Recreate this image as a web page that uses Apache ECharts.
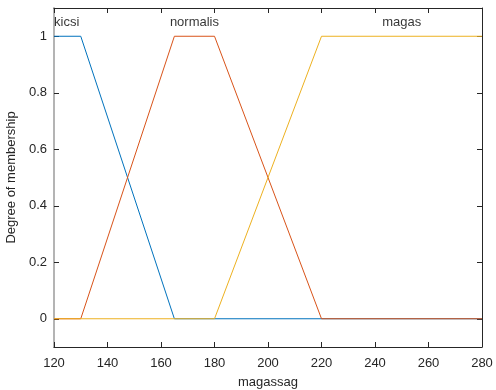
<!DOCTYPE html>
<html><head><meta charset="utf-8">
<script src="https://cdn.jsdelivr.net/npm/echarts@6/dist/echarts.min.js"></script>
<style>html,body{margin:0;padding:0;background:#fff}#c{width:496px;height:390px}</style>
</head><body><div id="c"></div>
<script>
const kicsiX = [120, 130, 165, 280];
const kicsiY = [1, 1, 0, 0];
const normalisX = [120, 130, 165, 180, 220, 280];
const normalisY = [0, 0, 1, 1, 0, 0];
const magasX = [120, 180, 220, 280];
const magasY = [0, 0, 1, 1];
const mfNames = ['kicsi', 'normalis', 'magas'];
const mfLabelX = [120, 172.5, 250];
const mfLabelY = 1.05;
const xTicks = [120, 140, 160, 180, 200, 220, 240, 260, 280];
const yTicks = [0, 0.2, 0.4, 0.6, 0.8, 1];

const zip = (xs, ys) => xs.map((x, i) => [x, ys[i]]);
const font = 'Liberation Sans, Arial, sans-serif';
const axisCol = '#262626';

const chart = echarts.init(document.getElementById('c'), null, {renderer: 'canvas'});
chart.setOption({
  animation: false,
  backgroundColor: '#fff',
  grid: {show: false, left: 54, right: 14, top: 8, bottom: 43, containLabel: false, outerBoundsMode: 'none'},
  xAxis: [{
    type: 'value', min: 120, max: 280, interval: 20,
    name: 'magassag', nameLocation: 'middle', nameGap: 29,
    nameTextStyle: {fontFamily: font, fontSize: 13, color: axisCol},
    axisLine: {onZero: false, lineStyle: {color: axisCol, width: 1}},
    axisTick: {show: true, inside: true, length: 5, lineStyle: {color: axisCol}},
    axisLabel: {fontFamily: font, fontSize: 13, color: axisCol, margin: 10},
    splitLine: {show: false}
  }, {
    show: true, type: 'value', min: 120, max: 280, interval: 20, position: 'top',
    axisLine: {show: true, onZero: false, lineStyle: {color: axisCol, width: 1}},
    axisTick: {show: true, inside: true, length: 5, lineStyle: {color: axisCol}},
    axisLabel: {show: false}, splitLine: {show: false}
  }],
  yAxis: [{
    type: 'value', min: -0.1, max: 1.1,
    name: 'Degree of membership', nameLocation: 'middle', nameGap: 29,
    nameTextStyle: {fontFamily: font, fontSize: 13, color: axisCol},
    axisLine: {show: true, onZero: false, lineStyle: {color: '#b4b4b4', width: 2}},
    axisTick: {show: true, inside: true, length: 5, customValues: yTicks, lineStyle: {color: axisCol}},
    axisLabel: {fontFamily: font, fontSize: 13, color: axisCol, margin: 7, customValues: yTicks,
      formatter: v => String(Math.round(v * 10) / 10)},
    splitLine: {show: false}
  }, {
    show: true, type: 'value', min: -0.1, max: 1.1, position: 'right',
    axisLine: {show: true, onZero: false, lineStyle: {color: axisCol, width: 1}},
    axisTick: {show: true, inside: true, length: 5, customValues: yTicks, lineStyle: {color: axisCol}},
    axisLabel: {show: false}, splitLine: {show: false}
  }],
  series: [
    {type: 'line', data: zip(kicsiX, kicsiY), symbol: 'none', lineStyle: {color: '#0072BD', width: 1}, itemStyle: {color: '#0072BD'}},
    {type: 'line', data: zip(normalisX, normalisY), symbol: 'none', lineStyle: {color: '#D95319', width: 1}, itemStyle: {color: '#D95319'}},
    {type: 'line', data: zip(magasX, magasY), symbol: 'none', lineStyle: {color: '#EDB120', width: 1}, itemStyle: {color: '#EDB120'}},
    {type: 'scatter', symbolSize: 0, silent: true,
      data: mfNames.map((n, i) => ({value: [mfLabelX[i], mfLabelY], name: n,
        label: {show: true, position: 'inside', formatter: n, fontFamily: font, fontSize: 13, color: '#000',
          align: i === 0 ? 'left' : 'center', verticalAlign: 'middle'}}))}
  ]
});
</script></body></html>
